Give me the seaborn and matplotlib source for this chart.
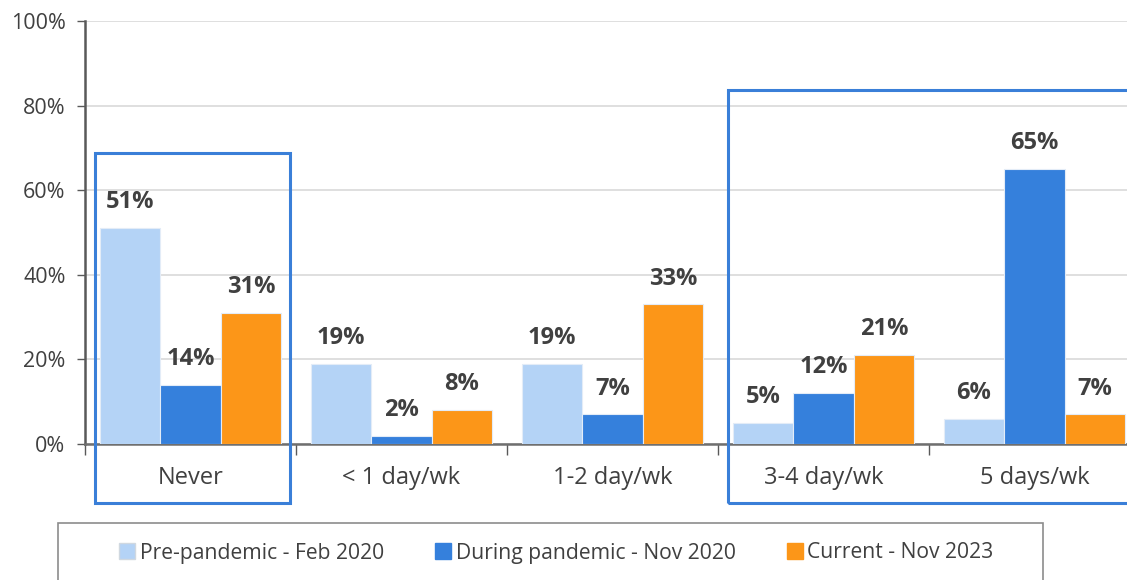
import pandas as pd
import matplotlib.pyplot as plt
import seaborn as sns
from matplotlib.lines import Line2D
from matplotlib.patches import Rectangle
from matplotlib.ticker import PercentFormatter

# Data
categories = ["Never", "< 1 day/wk", "1-2 day/wk", "3-4 day/wk", "5 days/wk"]
series = ["Pre-pandemic - Feb 2020", "During pandemic - Nov 2020", "Current - Nov 2023"]
pre_pandemic = [51, 19, 19, 5, 6]
during_pandemic = [14, 2, 7, 12, 65]
current = [31, 8, 33, 21, 7]
colors = ["#B4D3F6", "#3580DC", "#FC9618"]

df = pd.DataFrame({
    "Category": categories * 3,
    "Series": [series[0]] * 5 + [series[1]] * 5 + [series[2]] * 5,
    "Value": pre_pandemic + during_pandemic + current,
})

sns.set_style("white")
plt.rcParams["font.family"] = ["Open Sans", "DejaVu Sans"]
text_color = "#404040"

fig = plt.figure(figsize=(11.27, 5.8), dpi=100)
ax = fig.add_axes([85 / 1127, 136 / 580, 1055 / 1127, 423 / 580])

sns.barplot(data=df, x="Category", y="Value", hue="Series", order=categories,
            hue_order=series, palette=colors, saturation=1, width=0.86, gap=0,
            edgecolor="#E3ECF7", linewidth=0.8, ax=ax, zorder=3)
ax.get_legend().remove()

for cont in ax.containers:
    ax.bar_label(cont, labels=[f"{v:.0f}%" for v in cont.datavalues],
                 padding=10, fontsize=17, fontweight="bold", color=text_color)

ax.set_xlim(-0.5, 4.5)
ax.set_ylim(0, 100)
ax.set_yticks(range(0, 101, 20))
ax.yaxis.set_major_formatter(PercentFormatter(decimals=0))
ax.grid(axis="y", color="#D9D9D9", linewidth=1.2, zorder=0)
ax.set_xlabel("")
ax.set_ylabel("")

for side in ["top", "right"]:
    ax.spines[side].set_visible(False)
ax.spines["left"].set_color("#595959")
ax.spines["left"].set_linewidth(1.8)
ax.spines["bottom"].set_color("#6F6F6F")
ax.spines["bottom"].set_linewidth(1.8)

ax.tick_params(axis="y", direction="out", length=6, width=1, color="#595959",
               labelsize=15.5, labelcolor=text_color, pad=8, left=True)
ax.tick_params(axis="x", which="major", length=0, labelsize=17,
               labelcolor=text_color, pad=16)
ax.set_xticks([i - 0.5 for i in range(6)], minor=True)
ax.tick_params(axis="x", which="minor", direction="out", length=8, width=1,
               color="#595959", bottom=True)

# highlight boxes around "Never" and the 3+ days groups
box_kw = dict(fill=False, edgecolor="#3A7FD8", linewidth=2.2, clip_on=False, zorder=5)
ax.add_patch(Rectangle((-0.453, -13.9), 0.923, 82.7, **box_kw))
ax.add_patch(Rectangle((2.547, -13.9), 2.2, 97.6, **box_kw))

# legend with its own frame
fig.add_artist(Rectangle((58 / 1127, -0.05), 985 / 1127, 1.05 - 523 / 580,
                         transform=fig.transFigure, fill=False,
                         edgecolor="#8C8C8C", linewidth=1.2))
handles = [Line2D([], [], marker="s", linestyle="none", markersize=11,
                  markerfacecolor=c, markeredgecolor="#D0D8E0" if i == 0 else c)
           for i, c in enumerate(colors)]
fig.legend(handles, series, loc="center", bbox_to_anchor=(555 / 1127, 1 - 553 / 580),
           ncol=3, frameon=False, fontsize=15.2, labelcolor=text_color,
           handletextpad=0.1, columnspacing=2.3, handlelength=1.0)

fig.savefig("out.png", dpi=100)
